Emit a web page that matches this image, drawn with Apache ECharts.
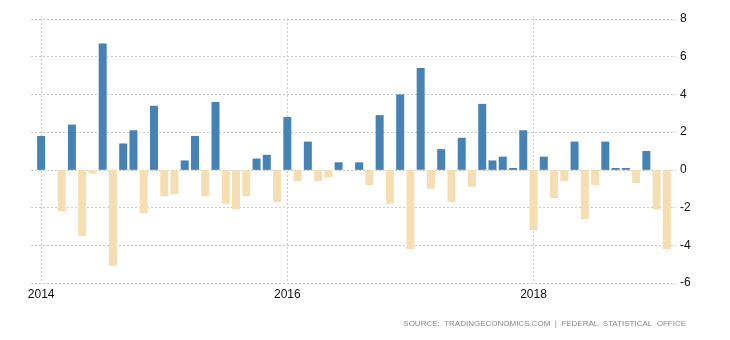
<!DOCTYPE html>
<html><head><meta charset="utf-8">
<script src="https://cdn.jsdelivr.net/npm/echarts@6/dist/echarts.min.js"></script>
<style>html,body{margin:0;padding:0;background:#fff}#c{width:730px;height:340px}</style>
</head><body><div id="c"></div>
<script>
const months = [
 '2014-01','2014-02','2014-03','2014-04','2014-05','2014-06','2014-07','2014-08','2014-09','2014-10','2014-11','2014-12',
 '2015-01','2015-02','2015-03','2015-04','2015-05','2015-06','2015-07','2015-08','2015-09','2015-10','2015-11','2015-12',
 '2016-01','2016-02','2016-03','2016-04','2016-05','2016-06','2016-07','2016-08','2016-09','2016-10','2016-11','2016-12',
 '2017-01','2017-02','2017-03','2017-04','2017-05','2017-06','2017-07','2017-08','2017-09','2017-10','2017-11','2017-12',
 '2018-01','2018-02','2018-03','2018-04','2018-05','2018-06','2018-07','2018-08','2018-09','2018-10','2018-11','2018-12',
 '2019-01','2019-02'
];
const values = [
 1.8, 0, -2.2, 2.4, -3.5, -0.2, 6.7, -5.1, 1.4, 2.1, -2.3, 3.4,
 -1.4, -1.3, 0.5, 1.8, -1.4, 3.6, -1.8, -2.1, -1.4, 0.6, 0.8, -1.7,
 2.8, -0.6, 1.5, -0.6, -0.4, 0.4, 0, 0.4, -0.8, 2.9, -1.8, 4.0,
 -4.2, 5.4, -1.0, 1.1, -1.7, 1.7, -0.9, 3.5, 0.5, 0.7, 0.1, 2.1,
 -3.2, 0.7, -1.5, -0.6, 1.5, -2.6, -0.8, 1.5, 0.1, 0.1, -0.7, 1.0,
 -2.1, -4.2
];
const yearLabels = ['2014', '2016', '2018'];
const yMin = -6, yMax = 8, yStep = 2;
const sourceText = 'SOURCE:  TRADINGECONOMICS.COM  |  FEDERAL  STATISTICAL  OFFICE';

const isYearTick = (i, v) => v.slice(5) === '01' && yearLabels.indexOf(v.slice(0, 4)) >= 0;
const grid = { color: '#cccccc', type: [2, 2], width: 1 };

const chart = echarts.init(document.getElementById('c'), null, { renderer: 'canvas' });
chart.setOption({
  animation: false,
  backgroundColor: '#ffffff',
  grid: [
    { left: 31, right: 54, top: 19, bottom: 57 },
    { left: 36, right: 58, top: 19, bottom: 57 }
  ],
  xAxis: [
    { gridIndex: 0, type: 'category', data: months, show: false },
    {
      gridIndex: 1, type: 'category', data: months,
      axisLine: { show: false }, axisTick: { show: false },
      axisLabel: {
        interval: isYearTick, formatter: v => v.slice(0, 4),
        color: '#111', fontSize: 12, fontFamily: 'Liberation Sans', margin: 6
      },
      splitLine: { show: true, alignWithLabel: true, interval: isYearTick, lineStyle: grid }
    }
  ],
  yAxis: [
    {
      gridIndex: 0, type: 'value', min: yMin, max: yMax, interval: yStep, position: 'right',
      axisLine: { show: false }, axisTick: { show: false },
      axisLabel: { color: '#111', fontSize: 12, fontFamily: 'Liberation Sans', margin: 4 },
      splitLine: { show: true, lineStyle: grid }
    },
    { gridIndex: 1, type: 'value', min: yMin, max: yMax, interval: yStep, show: false, splitLine: { show: false } }
  ],
  series: [{
    type: 'bar', xAxisIndex: 1, yAxisIndex: 1, data: values, barWidth: 8,
    itemStyle: { color: p => p.value >= 0 ? '#4682B4' : '#F5DEB3' }
  }],
  graphic: [{
    type: 'text', right: 44, top: 320,
    style: { text: sourceText, fill: '#8a8a8a', font: '8px "Liberation Sans"' }
  }]
});
</script></body></html>
